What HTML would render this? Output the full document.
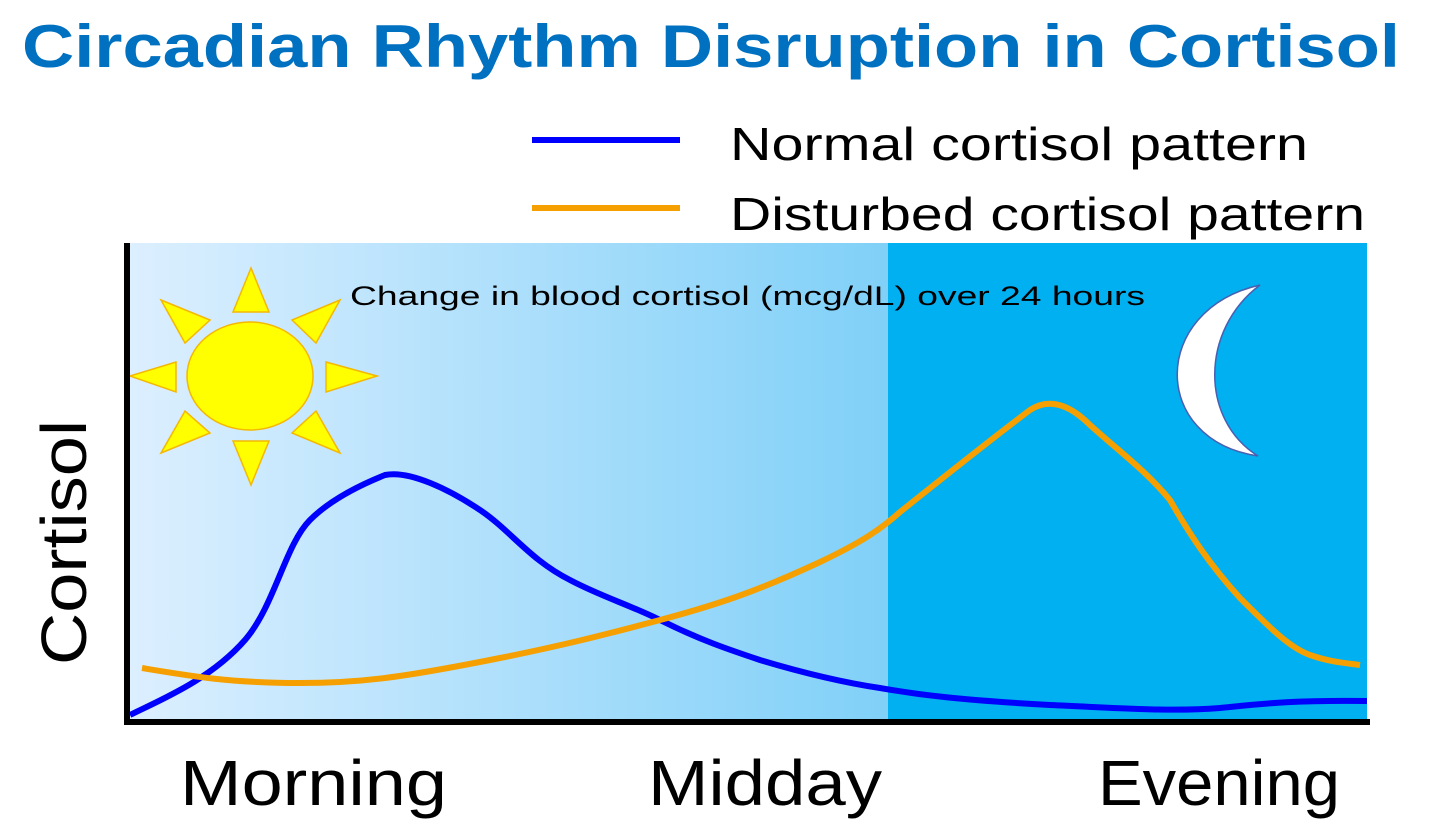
<!DOCTYPE html>
<html><head><meta charset="utf-8"><style>html,body{margin:0;padding:0;background:#fff}svg{display:block}</style></head>
<body>
<svg width="1429" height="824" viewBox="0 0 1429 824" xmlns="http://www.w3.org/2000/svg" font-family="Liberation Sans, sans-serif">
<defs>
<linearGradient id="g" x1="0" x2="1" y1="0" y2="0">
<stop offset="0" stop-color="#dcefff"/>
<stop offset="1" stop-color="#80d0f8"/>
</linearGradient>
</defs>
<rect x="128" y="243" width="760" height="479" fill="url(#g)"/>
<rect x="888" y="243" width="479" height="479" fill="#00b0f0"/>
<text x="22" y="67" font-size="60" font-weight="bold" fill="#0070c0" textLength="1378" lengthAdjust="spacingAndGlyphs">Circadian Rhythm Disruption in Cortisol</text>
<line x1="532" y1="140" x2="680" y2="140" stroke="#0000ff" stroke-width="6"/>
<line x1="532" y1="208" x2="680" y2="208" stroke="#f5a000" stroke-width="6"/>
<text x="730" y="160" font-size="46" fill="#000" textLength="578" lengthAdjust="spacingAndGlyphs">Normal cortisol pattern</text>
<text x="730" y="230" font-size="46" fill="#000" textLength="635" lengthAdjust="spacingAndGlyphs">Disturbed cortisol pattern</text>
<text x="350" y="305" font-size="27" fill="#000" textLength="795" lengthAdjust="spacingAndGlyphs">Change in blood cortisol (mcg/dL) over 24 hours</text>
<g fill="#ffff00" stroke="#f5b800" stroke-width="1.5">
<ellipse cx="250" cy="376" rx="63" ry="54"/>
<polygon points="251,268 233,312 269,312"/>
<polygon points="251,485 233,441 269,441"/>
<polygon points="130,376 176,362 176,392"/>
<polygon points="377,376 326,362 326,392"/>
<polygon points="161,300 210,320 185,343"/>
<polygon points="340,300 292,320 316,343"/>
<polygon points="161,453 210,433 185,411"/>
<polygon points="340,453 292,433 316,411"/>
</g>
<path d="M1260,285 C1150,310 1150,440 1258,456 C1200,420 1200,330 1260,285 Z" fill="#fff" stroke="#4a5fb0" stroke-width="1.5"/>
<path d="M130,715 C160,700 210,680 245,640 C275,605 285,545 310,520 C330,500 360,485 385,475 C410,470 450,490 480,510 C510,530 530,560 570,580 C600,596 630,605 660,620 C700,640 730,650 760,660 C800,672 840,682 880,688 C920,695 960,700 1050,705 C1120,708 1170,712 1220,708 C1260,704 1290,700 1367,701" fill="none" stroke="#0000ff" stroke-width="6"/>
<path d="M142,668 C190,676 230,683 300,683 C360,683 400,678 500,658 C560,646 600,636 660,620 C720,604 760,590 820,562 C860,543 880,530 900,512 C940,480 990,440 1030,410 C1045,400 1065,400 1090,425 C1120,452 1145,470 1170,500 C1190,535 1210,565 1240,598 C1270,628 1290,648 1310,655 C1330,662 1345,663 1360,665" fill="none" stroke="#f5a000" stroke-width="6"/>
<line x1="127" y1="243" x2="127" y2="724" stroke="#000" stroke-width="6"/>
<line x1="124" y1="722" x2="1370" y2="722" stroke="#000" stroke-width="6"/>
<text transform="translate(86,665) rotate(-90)" font-size="64" fill="#000" textLength="245" lengthAdjust="spacingAndGlyphs">Cortisol</text>
<text x="180" y="805" font-size="64" fill="#000" textLength="267" lengthAdjust="spacingAndGlyphs">Morning</text>
<text x="648" y="805" font-size="64" fill="#000" textLength="234" lengthAdjust="spacingAndGlyphs">Midday</text>
<text x="1098" y="805" font-size="64" fill="#000" textLength="242" lengthAdjust="spacingAndGlyphs">Evening</text>
</svg>
</body></html>
